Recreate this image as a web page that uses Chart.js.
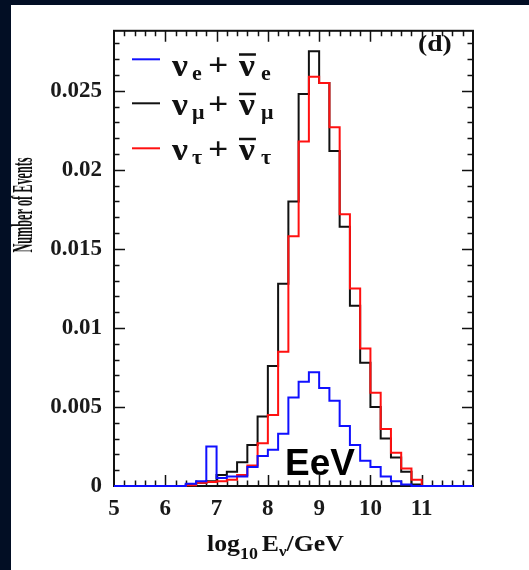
<!DOCTYPE html>
<html>
<head>
<meta charset="utf-8">
<script src="https://cdn.jsdelivr.net/npm/chart.js@4.4.1/dist/chart.umd.min.js"></script>
<style>
  html, body { margin: 0; padding: 0; width: 529px; height: 570px; overflow: hidden; background: #020e24; }
  #panel { position: absolute; left: 11px; top: 5px; width: 518px; height: 565px; background: #fff; }
  canvas { display: block; }
</style>
</head>
<body>
<div id="panel"><canvas id="spectrum" width="518" height="565"></canvas></div>
<script>
// Left edges of the 0.2-wide log10(E/GeV) bins that carry events
const binEdges = [6.4, 6.6, 6.8, 7.0, 7.2, 7.4, 7.6, 7.8, 8.0, 8.2, 8.4, 8.6,
                  8.8, 9.0, 9.2, 9.4, 9.6, 9.8, 10.0, 10.2, 10.4, 10.6, 10.8, 11.0];

// Event counts per bin for each flavour
const nueCounts   = [0.00015, 0.0003, 0.0025, 0.0005, 0.0006, 0.0006, 0.0012, 0.0019, 0.0023, 0.0033, 0.0056, 0.0066,
                     0.0072, 0.0062, 0.0054, 0.0038, 0.0026, 0.0016, 0.0012, 0.0006, 0.0003, 0.0001, 0, 0];
const numuCounts  = [0.0001, 0.0002, 0.0003, 0.0007, 0.0009, 0.0015, 0.0026, 0.0044, 0.0076, 0.0128, 0.0180, 0.0248,
                     0.0275, 0.0255, 0.0212, 0.0164, 0.0114, 0.0078, 0.0050, 0.0030, 0.0018, 0.0009, 0.0001, 0];
const nutauCounts = [0.00005, 0.0002, 0.00025, 0.0003, 0.0004, 0.0007, 0.0013, 0.0027, 0.0045, 0.0085, 0.0158, 0.0218,
                     0.0259, 0.0255, 0.0227, 0.0172, 0.0125, 0.0087, 0.0059, 0.0036, 0.0021, 0.0011, 0.0004, 0];

const xTickLabels = [5, 6, 7, 8, 9, 10, 11];
const yTickLabels = [0, 0.005, 0.01, 0.015, 0.02, 0.025];

const X_MIN = 5, X_MAX = 12;
const Y_MAX = 0.0288;

// step histogram: start and end on the baseline
function histPoints(counts) {
    const pts = [{ x: X_MIN, y: 0 }];
    binEdges.forEach((e, i) => pts.push({ x: e, y: counts[i] }));
    pts.push({ x: X_MAX, y: 0 });
    return pts;
}

const serif = '"Liberation Serif", "DejaVu Serif", serif';

function stretchText(ctx, str, x, y, font, sx, color) {
    ctx.save();
    ctx.font = font;
    ctx.fillStyle = color || '#111';
    ctx.textAlign = 'left';
    ctx.textBaseline = 'alphabetic';
    ctx.translate(x, y);
    ctx.scale(sx, 1);
    ctx.fillText(str, 0, 0);
    const w = ctx.measureText(str).width * sx;
    ctx.restore();
    return w;
}

// box frame with inward ticks on all four sides
const framePlugin = {
    id: 'frame',
    beforeDatasetsDraw(chart) {
        const ctx = chart.ctx;
        const { left, right, top, bottom } = chart.chartArea;
        const xs = chart.scales.x, ys = chart.scales.y;
        ctx.save();
        ctx.strokeStyle = '#111';
        ctx.lineWidth = 2;
        ctx.strokeRect(left, top, right - left, bottom - top);
        ctx.lineWidth = 1.5;
        ctx.beginPath();
        for (let k = 1; k < 35; k++) {
            const px = Math.round(xs.getPixelForValue(X_MIN + k * 0.2)) + 0.5;
            const len = k % 5 === 0 ? 11 : 5.5;
            ctx.moveTo(px, bottom); ctx.lineTo(px, bottom - len);
            ctx.moveTo(px, top); ctx.lineTo(px, top + len);
        }
        for (let k = 1; k <= 28; k++) {
            const py = Math.round(ys.getPixelForValue(k * 0.001)) + 0.5;
            const len = k % 5 === 0 ? 11 : 5.5;
            ctx.moveTo(left, py); ctx.lineTo(left + len, py);
            ctx.moveTo(right, py); ctx.lineTo(right - len, py);
        }
        ctx.stroke();
        ctx.restore();
    },
    afterDraw(chart) {
        const ctx = chart.ctx;
        // y axis title, drawn tall and narrow
        ctx.save();
        ctx.translate(21, 200);
        ctx.rotate(-Math.PI / 2);
        ctx.scale(0.72, 1.75);
        ctx.font = 'bold 17px ' + serif;
        ctx.fillStyle = '#111';
        ctx.textAlign = 'center';
        ctx.textBaseline = 'alphabetic';
        ctx.fillText('Number of Events', 0, 0);
        ctx.restore();

        // x axis title: log10 E_nu / GeV
        let x = 196;
        const base = 546;
        x += stretchText(ctx, 'log', x, base, 'bold 23px ' + serif, 1.12);
        x += stretchText(ctx, '10', x, base + 8, 'bold 16px ' + serif, 1.12) + 4;
        x += stretchText(ctx, 'E', x, base, 'bold 23px ' + serif, 1.12);
        x += stretchText(ctx, 'ν', x, base + 5, 'bold 15px ' + serif, 1.12);
        stretchText(ctx, '/GeV', x, base, 'bold 23px ' + serif, 1.12);

        // panel tag
        stretchText(ctx, '(d)', 407, 46, 'bold 24px ' + serif, 1.15);

        // legend
        const rows = [
            { color: '#1010ff', sub: 'e', line: 54.3, base: 70.5 },
            { color: '#111111', sub: 'μ', line: 98.3, base: 110 },
            { color: '#ff1010', sub: 'τ', line: 143.3, base: 155 }
        ];
        rows.forEach(r => {
            ctx.save();
            ctx.strokeStyle = r.color;
            ctx.lineWidth = 2;
            ctx.beginPath();
            ctx.moveTo(121, r.line); ctx.lineTo(149, r.line);
            ctx.stroke();
            ctx.restore();
            const bigFont = 'bold 31px ' + serif;
            const subFont = 'bold 20px ' + serif;
            stretchText(ctx, 'ν', 161, r.base, bigFont, 1.15);
            stretchText(ctx, r.sub, 181, r.base + 4, subFont, 1.1);
            stretchText(ctx, '+', 197, r.base - 1, bigFont, 1.15);
            const w = stretchText(ctx, 'ν', 228, r.base, bigFont, 1.15);
            ctx.save();
            ctx.strokeStyle = '#111';
            ctx.lineWidth = 2.5;
            ctx.beginPath();
            ctx.moveTo(228, r.base - 21); ctx.lineTo(228 + w + 1, r.base - 21);
            ctx.stroke();
            ctx.restore();
            stretchText(ctx, r.sub, 250, r.base + 4, subFont, 1.1);
        });

        // energy scale marker
        ctx.save();
        ctx.font = 'bold 37px "Liberation Sans", Arial, sans-serif';
        ctx.fillStyle = '#000';
        ctx.textBaseline = 'alphabetic';
        ctx.fillText('EeV', 274, 470);
        ctx.restore();
    }
};

const tickFont = { family: serif, weight: 'bold', size: 23 };

const data = {
    datasets: [
        {
            label: 'nu_e',
            data: histPoints(nueCounts),
            borderColor: '#1010ff',
            order: 0
        },
        {
            label: 'nu_mu',
            data: histPoints(numuCounts),
            borderColor: '#111111',
            order: 2
        },
        {
            label: 'nu_tau',
            data: histPoints(nutauCounts),
            borderColor: '#ff1010',
            order: 1
        }
    ]
};
data.datasets.forEach(ds => {
    ds.stepped = 'before';
    ds.borderWidth = 2;
    ds.pointRadius = 0;
    ds.fill = false;
    ds.clip = false;
});

const config = {
    type: 'line',
    data: data,
    options: {
        responsive: false,
        animation: false,
        layout: { padding: { top: 21, right: 56, left: 0, bottom: 0 } },
        plugins: {
            legend: { display: false },
            tooltip: { enabled: false }
        },
        scales: {
            x: {
                type: 'linear',
                min: X_MIN,
                max: X_MAX,
                grid: { display: false, drawTicks: false },
                border: { display: false },
                ticks: {
                    stepSize: 1,
                    autoSkip: false,
                    maxRotation: 0,
                    padding: 9,
                    color: '#1a1a1a',
                    font: tickFont,
                    callback: v => xTickLabels.includes(v) ? String(v) : ''
                },
                afterFit: s => { s.height = 84; }
            },
            y: {
                min: 0,
                max: Y_MAX,
                grid: { display: false, drawTicks: false },
                border: { display: false },
                ticks: {
                    stepSize: 0.005,
                    padding: 12,
                    color: '#1a1a1a',
                    font: tickFont,
                    callback: v => {
                        const r = +v.toFixed(3);
                        return yTickLabels.includes(r) ? String(r) : '';
                    }
                },
                afterFit: s => { s.width = 103; }
            }
        }
    },
    plugins: [framePlugin]
};

const ctx = document.getElementById('spectrum').getContext('2d');
const spectrumChart = new Chart(ctx, config);
</script>
</body>
</html>
